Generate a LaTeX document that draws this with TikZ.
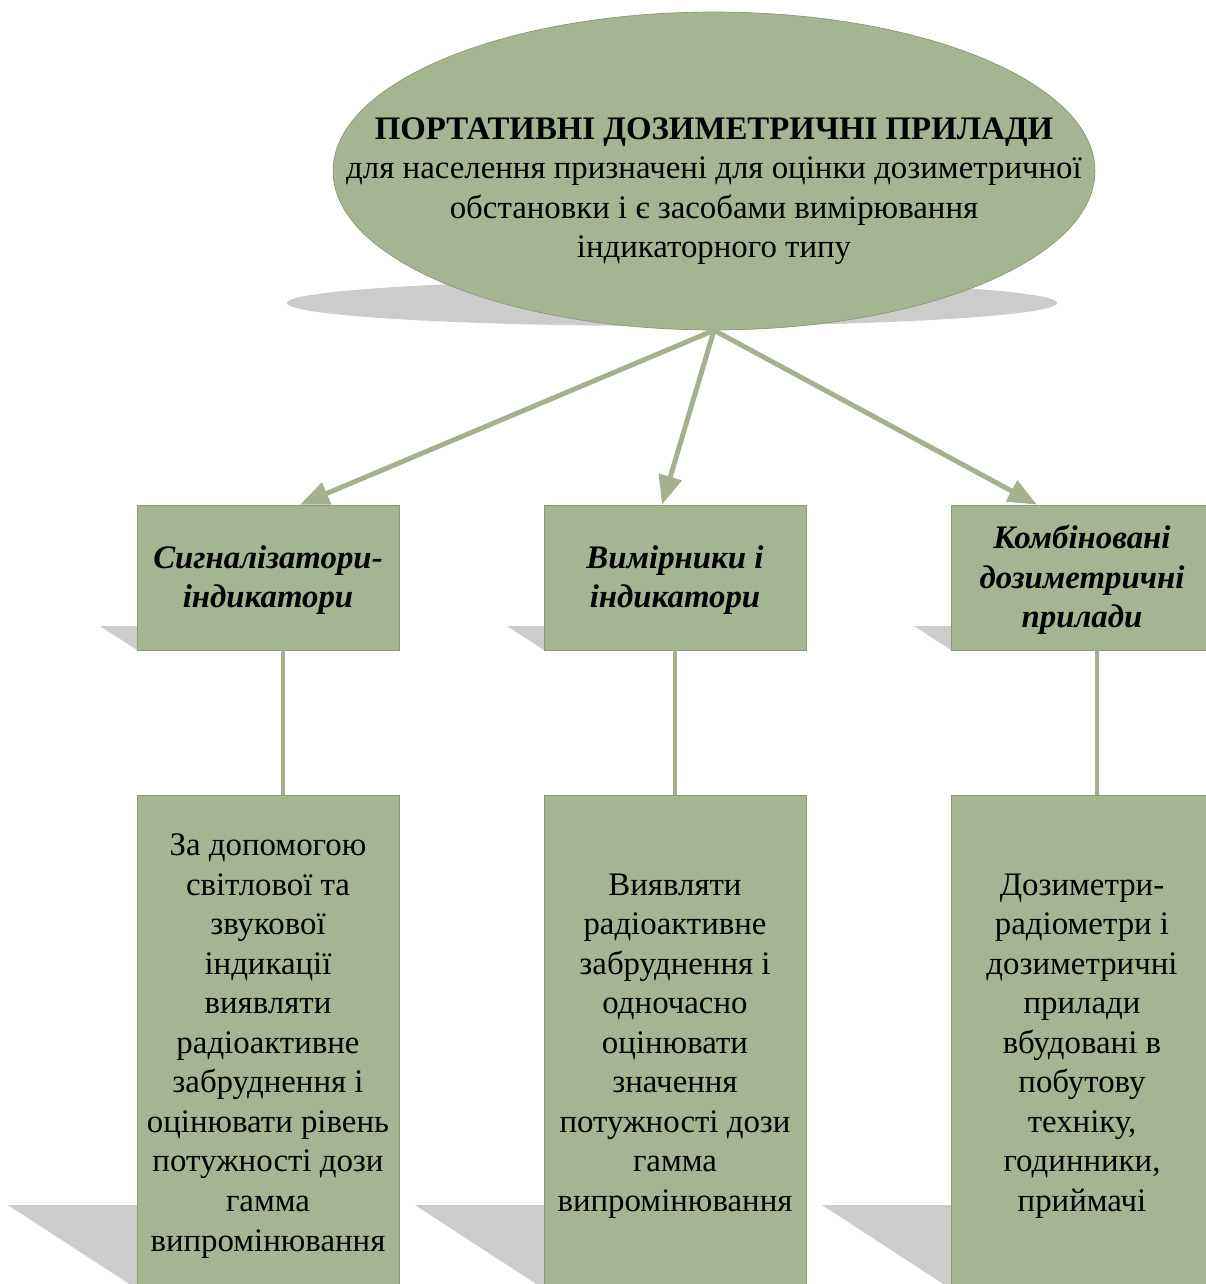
\documentclass[tikz,border=0pt]{standalone}
\usepackage{fontspec}
\setmainfont{Liberation Serif}
\usetikzlibrary{shapes.geometric,arrows.meta}
\definecolor{sage}{RGB}{166,181,145}
\definecolor{sageline}{RGB}{163,177,143}
\definecolor{sageedge}{RGB}{138,152,118}
\definecolor{shade}{RGB}{204,204,204}
\begin{document}
\begin{tikzpicture}[x=0.02cm,y=-0.02cm,
  txt/.style={font=\fontsize{18.7}{22.5}\selectfont, align=center, inner sep=0pt},
  box/.style={draw=sageedge, line width=0.4pt, fill=sage, minimum width=5.24cm, inner sep=0pt},
  topbox/.style={box, minimum height=2.9cm},
  lowbox/.style={box, minimum height=9.88cm},
  shadow/.style={fill=shade, draw=none},
  arr/.style={draw=sageline, line width=2.8pt, -{Triangle[length=0.58cm,width=0.46cm]}},
  link/.style={draw=sageline, line width=2.4pt}]
\clip (0,0) rectangle (1206,1284);
\fill[white] (0,0) rectangle (1206,1284);
% shadows
\fill[shadow] (672,303) ellipse [x radius=385, y radius=23];
\foreach \L in {137,544,951}{
  \fill[shadow] (\L-37,626) -- (\L,626) -- (\L,650) -- cycle;
  \fill[shadow] (\L-129,1205) -- (\L,1205) -- (\L,1289) -- cycle;
}
% main ellipse
\node[ellipse, fill=sage, draw=sageedge, line width=0.4pt, minimum width=15.24cm, minimum height=6.36cm, inner sep=0pt] (e) at (714,171) {};
\node[txt] (et) at (714,191) {\textbf{ПОРТАТИВНІ ДОЗИМЕТРИЧНІ ПРИЛАДИ}\\
для населення призначені для оцінки дозиметричної\\
обстановки і є засобами вимірювання\\
індикаторного типу};
% top boxes
\node[topbox] (b1) at (268,577.5) {};
\node[topbox] (b2) at (675,577.5) {};
\node[topbox] (b3) at (1082,577.5) {};
\node[txt] (b1t) at (268,580) {\textbf{\textit{Сигналізатори-}}\\\textbf{\textit{індикатори}}};
\node[txt] (b2t) at (675,580) {\textbf{\textit{Вимірники і}}\\\textbf{\textit{індикатори}}};
\node[txt] (b3t) at (1082,580) {\textbf{\textit{Комбіновані}}\\\textbf{\textit{дозиметричні}}\\\textbf{\textit{прилади}}};
% lower boxes
\node[lowbox] (d1) at (268,1042) {};
\node[lowbox] (d2) at (675,1042) {};
\node[lowbox] (d3) at (1082,1042) {};
\node[txt] (d1t) at (268,1046) {За допомогою\\світлової та\\звукової\\індикації\\виявляти\\радіоактивне\\забруднення і\\оцінювати рівень\\потужності дози\\гамма\\випромінювання};
\node[txt] (d2t) at (675,1046) {Виявляти\\радіоактивне\\забруднення і\\одночасно\\оцінювати\\значення\\потужності дози\\гамма\\випромінювання};
\node[txt] (d3t) at (1082,1046) {Дозиметри-\\радіометри і\\дозиметричні\\прилади\\вбудовані в\\побутову\\техніку,\\годинники,\\приймачі};
% connector targets
\coordinate (t1) at (300,0);
\coordinate (t2) at (662,0);
\coordinate (t3) at (1037,0);
\coordinate (v1) at (283,0);
\coordinate (v2) at (675,0);
\coordinate (v3) at (1097,0);
% arrows
\draw[arr] (e.south) -- (b1.north -| t1);
\draw[arr] (e.south) -- (b2.north -| t2);
\draw[arr] (e.south) -- (b3.north -| t3);
% vertical links
\draw[link] (b1.south -| v1) -- (d1.north -| v1);
\draw[link] (b2.south -| v2) -- (d2.north -| v2);
\draw[link] (b3.south -| v3) -- (d3.north -| v3);
\end{tikzpicture}
\end{document}
